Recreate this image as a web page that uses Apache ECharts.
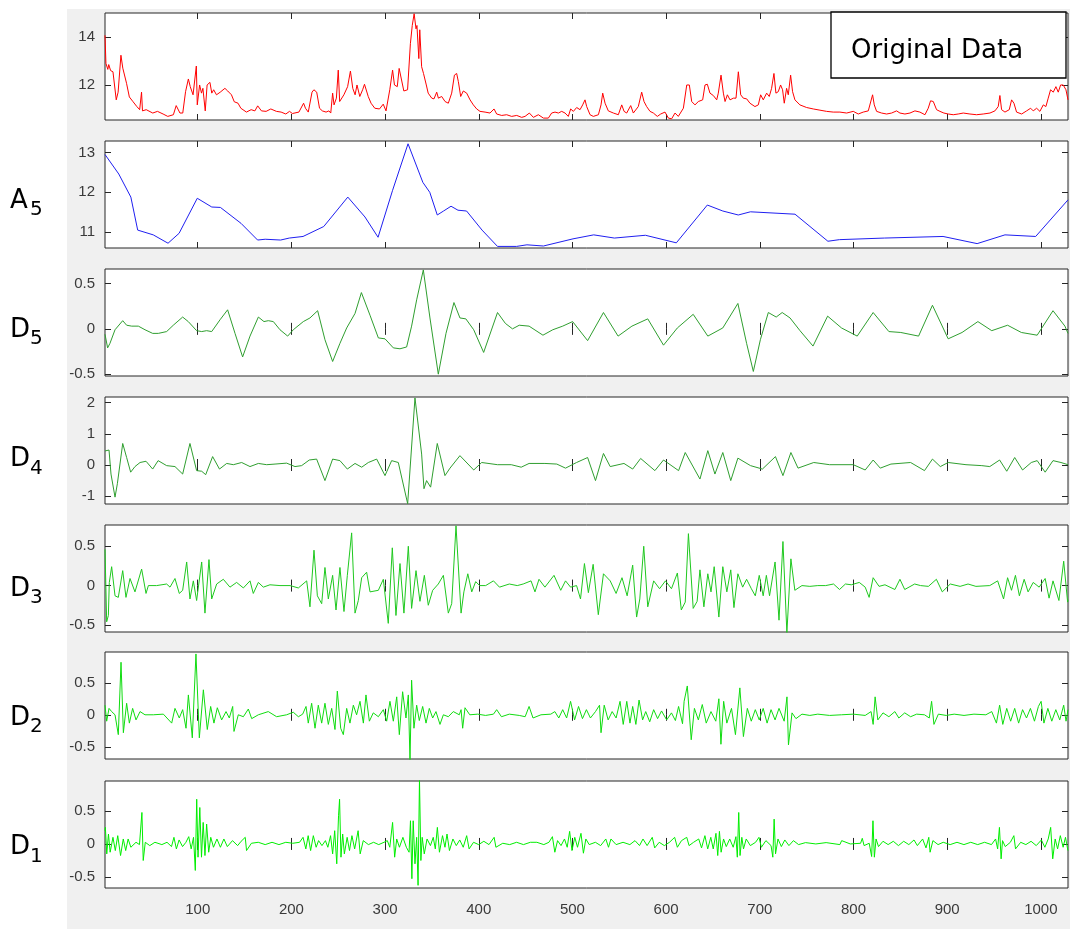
<!DOCTYPE html>
<html><head><meta charset="utf-8">
<script src="https://cdn.jsdelivr.net/npm/echarts@6/dist/echarts.min.js"></script>
<style>
html,body{margin:0;padding:0;background:#fff;}
#bg{position:absolute;left:67px;top:9px;width:1003px;height:920px;background:#f0f0f0;}
#chart{position:absolute;left:0;top:0;width:1070px;height:933px;}
</style></head><body>
<div id="bg"></div><div id="chart"></div>
<script>
// ---------- data ----------
const xTicks = [100,200,300,400,500,600,700,800,900,1000];
const panelLabels = [null, ['A','5'], ['D','5'], ['D','4'], ['D','3'], ['D','2'], ['D','1']];
const yTicksOrig = [12,14];
const yTicksA5 = [11,12,13];
const yTicksD5 = [-0.5,0,0.5];
const yTicksD4 = [-1,0,1,2];
const yTicksD3 = [-0.5,0,0.5];
const yTicksD2 = [-0.5,0,0.5];
const yTicksD1 = [-0.5,0,0.5];

const orig = [[1,14.07],[2,12.9],[4,12.65],[5,12.85],[7,12.6],[9.5,12.55],[13,11.38],[15,11.7],[18,13.24],[20,12.7],[24,12.07],[27,11.5],[31,11.3],[35,11.1],[38,10.97],[40,11.7],[41,10.92],[45,10.97],[52,10.83],[57,10.9],[63,10.79],[68,10.69],[74,10.76],[77,11.14],[81,10.83],[84,10.83],[87,11.72],[90,12.25],[92,11.93],[95,11.59],[98.5,12.79],[99.5,11.17],[102,12.0],[104,11.66],[105.5,11.86],[108,10.92],[110,12.0],[113,12.11],[115,11.66],[117,11.8],[120,11.59],[124,11.7],[129,11.86],[132,11.75],[136,11.59],[139,11.3],[143,11.24],[146,11.03],[152,10.87],[157,10.97],[161,10.92],[164,11.13],[168,10.92],[173,10.9],[178,11.0],[184,10.9],[189,10.87],[194,10.79],[198,10.9],[201,10.81],[208,10.87],[213,11.24],[215,11.03],[218,10.87],[222,11.7],[224,11.8],[227,11.7],[230,11.03],[233,10.92],[237,10.87],[240,10.92],[242,10.83],[244,11.66],[245.5,11.17],[248,11.45],[250,12.62],[251.5,11.31],[256,11.59],[260,11.93],[263,12.58],[265.5,11.86],[268,11.59],[270,12.0],[273,11.52],[276,11.8],[278,12.03],[282,11.52],[285,11.24],[289,11.03],[294,11.0],[298,11.2],[301,10.92],[305,11.8],[308,12.62],[310,12.0],[313,11.93],[315,12.69],[317,12.76],[320,11.75],[322,11.7],[324,11.8],[327,13.72],[329,14.48],[331,14.97],[333,14.34],[334,14.48],[336,13.1],[337,14.3],[339,12.76],[341,12.48],[344,12.0],[346,11.66],[349.8,11.45],[352.2,11.42],[355.1,11.7],[356.9,11.45],[360.4,11.52],[364,11.31],[367.5,11.24],[371.1,11.66],[374,12.41],[376.4,12.48],[378.2,12.14],[380.7,11.52],[383.5,11.75],[387.1,11.66],[390.7,11.38],[394.2,11.17],[397.8,11.0],[401.3,10.9],[406.7,10.87],[412,10.83],[416.3,11.0],[419.1,10.79],[424.5,10.73],[429.8,10.76],[435.1,10.69],[440.5,10.73],[445.8,10.65],[449.4,10.69],[454,10.83],[458.3,10.65],[463.6,10.76],[469,10.62],[474.3,10.62],[477.8,10.83],[481.4,10.87],[485,10.83],[488.5,10.9],[492.1,10.83],[495.6,10.69],[498.1,11.0],[501,10.9],[504.5,11.06],[508.1,10.97],[510.9,11.17],[513.4,11.38],[515.2,11.1],[518.8,10.76],[522.3,10.69],[527.7,10.76],[530.5,11.17],[532.3,11.66],[534.8,11.24],[538.3,10.92],[543.7,10.83],[549,10.76],[552.6,11.17],[555.1,10.9],[557.9,10.83],[562.2,11.14],[565,10.83],[570.3,11.1],[573.9,11.7],[576.4,11.31],[579.2,11.1],[582.8,10.9],[586.4,10.83],[590.6,10.69],[594.2,10.79],[598.8,10.87],[602.4,10.62],[605.9,10.59],[609.5,10.83],[613,10.69],[618.4,11.03],[622,12.0],[624.8,12.0],[627.3,11.31],[630.8,11.17],[634.4,11.31],[639,11.38],[641.5,12.0],[644,12.03],[646.8,11.66],[650.4,11.56],[654,11.38],[655.7,11.66],[658.6,12.41],[661.1,11.66],[662.9,11.31],[665.4,11.59],[668.2,11.38],[671.8,11.45],[674.6,11.45],[677.1,12.55],[679.6,11.59],[682.4,11.45],[686,11.42],[689.5,11.24],[691.3,11.17],[694.8,11.1],[698.4,11.17],[700.9,11.59],[703.7,11.38],[707.3,11.66],[710.1,11.52],[712.6,11.86],[715.1,12.48],[717.2,11.66],[719.7,11.72],[722.2,12.0],[724.3,11.8],[726.1,11.24],[728.6,11.86],[730.4,11.59],[732.9,12.41],[735,11.72],[737.5,11.38],[742.8,11.17],[750,11.06],[757.1,11.0],[764.2,10.95],[771.3,10.9],[778.4,10.87],[785.5,10.87],[792.7,10.83],[799.8,10.9],[805.1,10.79],[810.4,10.87],[815.8,10.92],[820.4,11.59],[822.2,11.17],[824.7,10.9],[830,10.83],[835.4,10.79],[840.7,10.83],[846,10.92],[849.6,10.83],[854.9,10.79],[860.3,10.83],[865.6,10.92],[870.9,10.87],[876.3,10.76],[879.8,11.03],[882.3,11.34],[885.2,11.31],[888.7,10.97],[892.3,10.9],[896.5,10.83],[901.2,10.79],[906.5,10.76],[911.8,10.79],[917.2,10.83],[924.3,10.79],[931.4,10.76],[938.5,10.79],[945.7,10.83],[951,10.92],[954.5,11.1],[956.3,11.56],[958.1,10.97],[961.7,10.87],[966.3,10.97],[968.8,11.38],[971.3,11.24],[974.1,10.87],[979.5,10.79],[984.8,10.92],[989.1,11.03],[991.9,10.92],[995.5,11.03],[999,10.9],[1002.6,11.17],[1005.4,11.1],[1007.9,11.45],[1010.4,11.8],[1013.3,11.7],[1016.1,11.93],[1018.6,11.7],[1021.1,12.0],[1023.9,12.0],[1026.8,11.8],[1029,11.38]];

const a5 = [[1,12.95],[15.7,12.46],[28.6,11.88],[35.9,11.05],[52.5,10.93],[68.3,10.72],[80.1,10.97],[99.5,11.85],[115,11.63],[124.2,11.62],[146.2,11.22],[163.9,10.8],[172,10.82],[188.5,10.8],[197.7,10.85],[212.4,10.89],[234.5,11.14],[260.2,11.88],[278.5,11.38],[292.5,10.87],[308,12.05],[324.5,13.22],[340.3,12.25],[347.7,12.0],[355.7,11.43],[362.4,11.53],[370.4,11.65],[377.8,11.55],[387,11.53],[403.5,11.05],[420,10.64],[440.3,10.64],[451.4,10.68],[469,10.65],[500.6,10.83],[522.7,10.93],[544.8,10.85],[577.9,10.92],[610.9,10.73],[644,11.68],[660.5,11.53],[677,11.43],[690,11.51],[737.6,11.45],[772.7,10.77],[785,10.81],[833,10.85],[895.6,10.89],[932,10.71],[961.7,10.93],[994.5,10.89],[1029,11.81]];

const d5 = [[1,-0.06],[1.7,-0.08],[3.8,-0.21],[6.3,-0.16],[11.7,-0.01],[19.9,0.09],[24.1,0.04],[29.5,0.03],[36.6,0.03],[43.7,-0.01],[51.9,-0.05],[57.9,-0.05],[66.8,-0.03],[73.9,0.04],[83.9,0.13],[89.9,0.08],[98.8,-0.02],[104.2,-0.03],[109.5,-0.02],[114.9,-0.03],[123.8,0.1],[131.9,0.21],[139.8,-0.05],[147.9,-0.31],[155.8,-0.08],[164.7,0.13],[170.7,0.08],[175.3,0.09],[180.7,0.08],[187.8,-0.01],[196,-0.08],[202,-0.01],[212.7,0.08],[219.8,0.12],[228,0.2],[235.8,-0.12],[244,-0.36],[251.8,-0.16],[259,0.01],[267.9,0.17],[274.7,0.4],[283.9,0.15],[292.8,-0.1],[299.9,-0.11],[308.8,-0.21],[315.9,-0.22],[323,-0.2],[328.3,0.03],[333.7,0.32],[340.8,0.65],[347.9,0.12],[356.8,-0.5],[365,-0.05],[373.5,0.29],[379.9,0.12],[386.2,0.11],[394.6,-0.01],[405.2,-0.26],[420,0.18],[428.4,0.06],[436,0.0],[443.2,0.04],[453.7,0.03],[468.5,-0.07],[479,-0.01],[489.6,0.03],[500.2,0.08],[516.2,-0.13],[533.1,0.18],[548.7,-0.08],[563.5,0.03],[580.4,0.11],[597.2,-0.18],[612,0.01],[628.9,0.16],[644.5,-0.08],[660.5,0.01],[676.6,0.28],[685.9,-0.16],[693.1,-0.47],[700.6,-0.12],[709.1,0.18],[717.5,0.13],[723.9,0.18],[732.3,0.12],[742.9,-0.02],[756.8,-0.19],[772.4,0.14],[787.2,0.01],[804,-0.08],[821,0.18],[837.8,-0.03],[850.5,-0.04],[869.5,-0.08],[884.3,0.26],[901.1,-0.11],[915.9,-0.04],[932.8,0.08],[947.6,-0.02],[964.5,0.04],[979.2,-0.04],[996.1,-0.07],[1013,0.2],[1025.7,0.03],[1029,-0.05]];

const d4 = [[1,0.45],[1.7,0.46],[5.3,0.48],[7.4,-0.29],[11.7,-1.03],[14.2,-0.6],[19.9,0.69],[24.1,0.24],[28.4,-0.23],[33,-0.05],[38.4,0.08],[44.8,0.12],[51.9,-0.13],[57.7,0.14],[66.8,-0.02],[75.7,-0.05],[83.9,-0.29],[91.7,0.69],[98.8,-0.18],[104.2,-0.2],[108.5,-0.31],[115.9,0.27],[123.2,-0.13],[130.9,0.05],[138,0.01],[146.9,0.08],[155.8,-0.05],[164.7,0.05],[173.6,0.01],[182.5,0.03],[194.9,0.06],[203.8,-0.05],[210.9,-0.02],[219.1,0.16],[226.9,0.19],[235.8,-0.5],[244,0.19],[251.8,0.14],[259.7,-0.13],[267.9,0.05],[275,-0.07],[282.1,0.08],[291,0.19],[299.9,-0.34],[307,0.14],[314.1,0.08],[324.1,-1.24],[331.9,2.15],[339,0.35],[341.5,-0.76],[344.3,-0.5],[348.6,-0.71],[355.7,0.69],[363.9,-0.34],[369.3,-0.1],[379.9,0.3],[394.6,-0.16],[403.1,0.08],[420,0.01],[434.7,0.01],[445.3,-0.07],[453.7,0.05],[470.6,0.05],[483.3,0.03],[492.6,-0.1],[504.4,0.08],[516.2,0.24],[524.6,-0.5],[533.1,0.37],[540.3,-0.05],[555,0.05],[564.3,-0.13],[572.8,0.21],[588,-0.18],[597.2,0.16],[613.3,-0.18],[620.4,0.4],[636.1,-0.45],[644.5,0.46],[652.1,-0.29],[660.5,0.4],[669,-0.5],[676.6,0.22],[690.1,-0.02],[702.8,-0.13],[716.7,0.27],[724.7,-0.34],[733.2,0.4],[740.8,-0.1],[757.6,0.08],[774.5,0.01],[799.8,0.01],[812.5,-0.16],[821,0.16],[828.6,-0.1],[840,0.03],[861,0.08],[875.8,-0.18],[884.3,0.19],[892.7,-0.05],[901.1,0.08],[920.1,0.01],[937,-0.02],[945.5,-0.05],[956,0.16],[963.6,-0.2],[972.1,0.24],[980.5,-0.16],[989.8,0.08],[996.1,0.14],[1004.6,-0.23],[1013,0.14],[1021.5,0.08],[1029,0.01]];

const d3 = [[1,0.46],[2.8,-0.46],[4.6,-0.38],[5.6,0.04],[8.1,0.24],[11.7,-0.13],[15.2,-0.15],[19.9,0.19],[23.4,-0.15],[27.7,0.09],[33,-0.08],[40.1,0.21],[44.8,-0.1],[47.3,0.0],[56.1,0.0],[66.8,0.02],[70.4,-0.02],[75.7,0.09],[80.3,-0.1],[83.9,-0.06],[88.2,0.3],[91.7,-0.17],[95.3,0.06],[98.8,-0.19],[104.2,0.3],[107.7,-0.35],[112,0.33],[114.9,-0.17],[120.2,0.02],[127.3,0.08],[134.4,-0.02],[141.5,0.04],[148.7,-0.03],[155.8,0.06],[159.3,-0.1],[164.7,0.04],[170,-0.02],[177.1,0.01],[187.8,0.0],[198.5,0.0],[207.4,-0.03],[216.3,0.06],[219.8,-0.27],[224.1,0.45],[227.7,-0.13],[232.3,-0.23],[235.8,0.23],[239.4,-0.17],[244,0.13],[247.6,-0.31],[251.8,0.23],[256.1,-0.33],[259.7,0.13],[264.3,0.67],[267.9,-0.35],[271.4,-0.19],[275,0.1],[280.3,0.17],[283.9,-0.08],[292.8,-0.06],[298.1,0.08],[303.4,-0.48],[307.7,0.48],[311.6,-0.38],[315.9,0.28],[320.1,-0.35],[324.8,0.5],[328.3,-0.29],[333,0.19],[337.2,-0.2],[341.9,0.13],[346.1,-0.25],[350.8,-0.06],[356.8,0.02],[362.2,0.13],[367.5,-0.35],[371.1,-0.23],[375.7,0.76],[381.1,-0.35],[384.1,-0.08],[388.3,0.15],[392.5,-0.08],[396.7,0.05],[401,0.0],[407.3,0.0],[415.7,0.06],[422.1,-0.02],[432.6,0.02],[441.1,0.0],[447.4,0.02],[455.8,0.06],[460,-0.08],[464.3,0.08],[470.6,-0.02],[480.3,0.13],[487.5,-0.06],[492.6,0.06],[498,-0.02],[504.4,0.0],[508.6,-0.17],[512.8,0.28],[517,-0.09],[522.1,0.27],[527.6,-0.37],[533.1,0.15],[540.3,0.06],[546.6,-0.1],[552.9,0.1],[558.4,-0.13],[564.3,0.26],[568.5,-0.4],[571.9,-0.17],[576.1,0.5],[580.4,-0.27],[586.7,0.06],[593,-0.04],[599.3,0.06],[605.7,-0.04],[612,0.16],[616.2,-0.31],[620.4,-0.21],[623.8,0.66],[628.9,-0.29],[633.1,-0.2],[636.1,0.2],[640.3,-0.27],[644.5,0.15],[647.9,-0.08],[651.3,0.24],[656.3,-0.4],[660.5,0.24],[664.8,-0.08],[669,0.2],[672.4,-0.28],[676.6,0.15],[681.7,-0.02],[685.9,0.08],[691,-0.04],[695.2,-0.13],[699.4,0.13],[703.6,-0.13],[707,0.13],[710.4,-0.13],[716.3,0.3],[720.5,-0.44],[724.7,0.56],[728.9,-0.6],[733.2,0.34],[737.4,-0.06],[745,0.0],[753.4,-0.01],[761.9,0.0],[770.3,0.0],[778.7,0.02],[785.1,-0.05],[791.4,0.02],[797.7,0.01],[806.2,0.04],[812.5,-0.02],[816.7,-0.15],[821,0.1],[827.3,-0.01],[833.6,0.01],[844.2,-0.05],[849.6,0.08],[854.7,-0.05],[865.3,0.02],[871.6,0.0],[880,-0.01],[888.5,0.08],[894.8,-0.08],[903.3,0.02],[913.8,-0.01],[922.3,0.02],[930.7,-0.01],[945.5,0.0],[953.9,0.06],[960.2,-0.17],[964.5,0.1],[968.7,-0.06],[972.9,0.13],[977.1,-0.13],[982.2,0.08],[986.4,-0.08],[991.9,0.04],[998.2,-0.02],[1004.6,0.09],[1008.8,-0.16],[1013,0.06],[1019.3,-0.19],[1024.4,0.31],[1028.6,-0.21],[1029,-0.18]];

const d2 = [[1,0.15],[2.8,-0.1],[5.3,0.1],[8.1,0.05],[11.7,0.0],[15.2,-0.31],[18.1,0.82],[20.6,-0.28],[24.1,0.18],[27,-0.13],[30.5,0.1],[34.1,-0.08],[38.4,0.05],[43.7,0.0],[52.6,0.0],[63.3,0.01],[72.2,-0.13],[75.7,0.1],[80.3,-0.05],[83.9,0.08],[87.5,-0.21],[90,0.31],[94.2,-0.36],[98.1,0.95],[101.7,-0.36],[106,0.39],[110.2,-0.23],[113.8,0.13],[117.3,-0.13],[120.9,0.11],[125.5,-0.08],[130.2,0.05],[133.7,-0.05],[137.3,0.13],[138.7,-0.26],[143.3,0.0],[148.7,-0.03],[154,0.09],[157.6,-0.06],[164.7,0.0],[175.3,0.05],[184.2,-0.03],[194.9,0.0],[202,0.04],[207.4,-0.03],[212,0.01],[215.6,0.13],[218,-0.13],[221.6,0.18],[225.2,-0.21],[228.7,0.15],[232.3,-0.13],[235.8,0.18],[239.4,-0.15],[243,0.1],[246.5,-0.23],[249,0.37],[252.6,-0.21],[255.4,-0.31],[259,0.1],[262.5,-0.13],[266.1,0.15],[269.6,0.0],[273.2,0.21],[276.8,-0.13],[279.6,0.31],[283.2,-0.1],[287.4,0.03],[292.8,-0.03],[298.1,0.08],[301.7,-0.1],[305.2,0.21],[308.8,-0.1],[312.4,0.28],[315.2,-0.31],[318.7,0.36],[322.3,-0.05],[324.8,0.31],[326.6,-0.72],[328.3,0.54],[330.8,-0.21],[333.7,0.15],[336.5,-0.09],[340.1,0.13],[343.7,-0.13],[347.2,0.1],[350.8,-0.05],[354.3,0.05],[358.6,-0.15],[362.2,0.0],[367.5,-0.03],[372.8,0.05],[379.2,0.0],[381.1,0.08],[382.8,-0.21],[385.3,0.11],[390.4,0.0],[398.8,0.01],[407.3,-0.01],[415.7,0.01],[419.1,0.08],[424.2,-0.03],[432.6,0.01],[443.2,-0.01],[449.5,-0.03],[453.7,0.13],[457.9,-0.05],[466.4,0.0],[476.9,0.01],[481.2,0.05],[485.4,-0.05],[489.6,0.08],[493.8,-0.05],[498,0.21],[502.3,-0.08],[506.5,0.13],[510.7,-0.06],[514.9,0.08],[519.2,-0.05],[524.6,0.05],[528.9,0.15],[530.5,-0.28],[533.9,0.15],[538.1,-0.08],[542.4,0.05],[546.6,-0.05],[550.8,0.21],[554.2,-0.15],[558,0.21],[561.4,-0.13],[564.3,0.13],[567.7,-0.15],[571.1,0.23],[574.9,-0.08],[578.2,0.05],[582.5,-0.11],[586.7,0.08],[590.9,-0.06],[595.1,0.06],[600.6,-0.08],[605.7,0.03],[609.9,-0.09],[613.3,0.13],[617.5,-0.14],[619.2,0.21],[622.6,0.45],[626.8,-0.39],[630.2,0.1],[634.4,-0.08],[638.6,0.16],[642.8,-0.13],[647.9,0.05],[653,-0.1],[656.3,0.25],[658.5,-0.46],[661.4,0.21],[664.8,-0.13],[669.8,0.1],[674,-0.31],[678.7,0.42],[682.5,-0.34],[686.7,0.1],[690.9,-0.1],[695.2,0.08],[699.4,-0.08],[703.6,0.1],[707.8,-0.13],[712,0.08],[716.3,-0.08],[720.5,0.1],[726,-0.1],[729,0.28],[730.6,-0.47],[734.4,0.03],[738.6,-0.06],[745,0.01],[753.4,-0.01],[761.9,0.01],[774.5,-0.01],[787.2,0.0],[799.8,0.01],[812.5,-0.01],[818.8,0.05],[821,-0.15],[823.1,0.28],[826,-0.08],[831.5,0.03],[837.8,-0.03],[844.2,0.05],[848.4,-0.05],[854.7,0.03],[861,-0.03],[867.4,0.01],[875.8,0.0],[880.9,-0.05],[883.4,0.21],[885.9,-0.15],[890.6,0.01],[899,-0.01],[907.5,0.01],[918,-0.01],[928.6,0.01],[941.3,0.0],[947.6,0.05],[952.6,-0.13],[956,0.15],[959.4,-0.15],[963.6,0.1],[967.8,-0.1],[972.1,0.1],[976.3,-0.13],[980.5,0.08],[984.7,-0.05],[988.9,0.1],[993.2,-0.1],[997.4,0.13],[1000.3,0.21],[1003.3,-0.13],[1007.5,0.1],[1011.7,-0.1],[1016,0.08],[1020.2,-0.08],[1024.4,0.15],[1026.9,-0.1],[1029,0.08]];

const d1 = [[1,0.2],[1.4,0.25],[2.9,-0.15],[4.7,0.15],[6.5,-0.125],[9.5,0.1],[12,-0.1],[14.6,0.125],[17.6,-0.175],[20.5,0.075],[23.1,-0.1],[25.7,0.075],[28.6,-0.05],[34.1,0.025],[37.8,-0.01],[40.4,0.475],[41.8,-0.25],[44,0.025],[48.8,-0.025],[54.3,0.025],[61.7,-0.01],[67.2,0.025],[72,-0.04],[74.6,0.1],[77.2,-0.075],[80.1,0.06],[83.8,-0.04],[87.4,0.025],[90.4,0.11],[93,-0.075],[95.5,0.1],[97.4,-0.4],[98.9,0.675],[100.3,-0.2],[102.2,0.55],[104,-0.2],[105.8,0.325],[107.7,-0.175],[109.5,0.3],[111.7,-0.125],[113.9,0.1],[116.8,-0.05],[120.5,0.075],[124.2,-0.05],[127.9,0.075],[131.6,-0.04],[137.1,0.05],[142.6,-0.025],[146.3,0.04],[150.7,0.1],[152.1,-0.1],[157.3,0.01],[164.6,0.025],[172,-0.01],[179.3,0.025],[186.7,-0.01],[194,0.025],[201.4,0.01],[208.7,0.025],[212.4,0.1],[215.4,-0.075],[217.9,0.125],[220.5,-0.1],[223.4,0.125],[226.4,-0.05],[229,0.05],[232.6,-0.025],[236.3,0.05],[238.9,-0.05],[241.8,0.125],[244,-0.15],[246.2,0.2],[248.4,-0.3],[250.3,0.425],[251.4,0.675],[252.9,-0.2],[254.7,0.15],[256.5,-0.15],[259.5,0.1],[262,-0.1],[264.6,0.125],[267.5,-0.075],[271.2,0.2],[273.4,-0.15],[276.7,0.05],[282.2,-0.01],[287.7,0.025],[293.2,-0.01],[298.8,0.025],[302.4,0.05],[305,-0.05],[308,0.325],[310.2,-0.2],[312.4,0.075],[315.3,-0.05],[319,0.1],[322.7,-0.05],[325.6,-0.125],[327.1,0.35],[328.6,-0.525],[330,0.35],[331.9,-0.3],[333.7,0.1],[335.2,-0.625],[336.7,0.975],[338.2,-0.25],[339.6,0.1],[341.8,-0.15],[344.8,0.075],[348.4,-0.025],[351.4,0.1],[353.6,-0.075],[355.8,0.25],[358,-0.125],[361.3,0.125],[363.9,-0.05],[366.1,0.15],[368.7,-0.1],[372.4,0.075],[376,-0.025],[379.7,0.06],[383.4,-0.05],[387.1,0.125],[389.7,-0.075],[394.4,0.025],[399.9,-0.01],[405.4,0.04],[410.9,-0.01],[416.4,0.1],[418.3,-0.05],[425.6,0.01],[433,-0.01],[440.4,0.025],[447.7,-0.01],[455.1,0.025],[462,0.025],[469.4,-0.01],[474.9,0.025],[478.6,0.11],[481.2,-0.125],[484.1,0.05],[487.8,-0.025],[491.5,0.075],[494.4,-0.05],[497,0.19],[499.5,-0.1],[502.5,0.1],[505.4,-0.05],[509.1,0.16],[511.7,-0.14],[514.3,0.075],[517.9,-0.01],[524.5,0.025],[530.1,-0.025],[535.6,0.075],[538.5,-0.05],[541.1,0.075],[546.6,-0.01],[554,0.025],[561.3,-0.01],[566.8,0.05],[571.6,-0.025],[575.3,0.075],[579.7,-0.025],[585.2,0.1],[587.8,-0.06],[592.6,0.025],[598.1,-0.025],[603.6,0.025],[609.1,0.1],[612,-0.05],[616.4,0.05],[622,0.1],[624.5,-0.025],[629.3,0.025],[634.8,0.075],[637.8,-0.06],[641.4,0.125],[644.4,-0.075],[647.7,0.1],[650.3,-0.075],[653.2,0.16],[655.1,-0.175],[656.9,0.19],[658.7,-0.125],[661.3,0.075],[664.2,-0.04],[667.9,0.075],[671.6,-0.05],[674.5,0.11],[676,-0.2],[677.5,0.475],[678.9,-0.175],[680.8,0.1],[682.6,-0.075],[685.5,0.075],[689.9,-0.025],[695.5,0.025],[699.1,0.1],[701.7,-0.05],[706.5,0.05],[712,-0.025],[713.9,-0.2],[715.3,0.375],[716.8,-0.15],[719.4,0.075],[723,-0.04],[726.7,0.06],[731.1,-0.025],[735.9,0.05],[741.4,-0.01],[748.8,0.02],[759.8,0.0],[770.8,0.02],[785.5,-0.01],[787.4,0.05],[796.6,0.0],[807.6,0.01],[809.4,0.085],[811.3,-0.025],[816.8,0.01],[819.4,-0.19],[820.8,0.35],[822.3,-0.2],[824.1,0.075],[826.7,-0.04],[831.5,0.04],[837,-0.01],[842.5,0.04],[848,-0.025],[853.6,0.04],[859.1,-0.01],[864.6,0.06],[868.2,-0.025],[873.8,0.075],[877.4,-0.06],[880.4,0.1],[881.8,-0.125],[884.8,0.05],[890.3,-0.01],[895.8,0.025],[903.2,-0.01],[910.5,0.025],[917.9,-0.01],[925.2,0.025],[932.6,-0.01],[939.9,0.025],[947.3,-0.01],[951.7,0.075],[953.9,-0.075],[955.8,0.25],[957.6,-0.225],[959.1,0.05],[962,-0.04],[967.5,0.025],[971.2,0.125],[973,-0.075],[978.5,0.025],[984,-0.01],[989.6,0.04],[995.1,-0.025],[1000.6,0.06],[1004.3,-0.05],[1007.9,0.075],[1010.5,0.25],[1012.7,-0.225],[1015.3,0.075],[1017.9,-0.075],[1020.8,0.125],[1023.8,-0.05],[1026.3,0.1],[1028.9,-0.1]];

// ---------- layout / style ----------
const panels = [
  {data: orig, color: '#ff0000', min: 10.54, max: 15.0, ticks: yTicksOrig},
  {data: a5, color: '#1f1ff0', min: 10.6, max: 13.29, ticks: yTicksA5},
  {data: d5, color: '#2f9e2f', min: -0.52, max: 0.66, ticks: yTicksD5},
  {data: d4, color: '#2f9e2f', min: -1.25, max: 2.18, ticks: yTicksD4},
  {data: d3, color: '#1fc81f', min: -0.59, max: 0.77, ticks: yTicksD3},
  {data: d2, color: '#10dc10', min: -0.69, max: 0.98, ticks: yTicksD2},
  {data: d1, color: '#00ee00', min: -0.665, max: 0.95, ticks: yTicksD1}
];
const tops = [13, 141, 269, 397, 525, 652, 781];
const labelCenters = [null, 201, 330, 459.5, 589, 718, 847.5];
const H = 107;
const axisCol = '#262626';
const labelStyle = {fontSize: 15, color: '#3a3a3a', fontFamily: '"Liberation Sans", Arial, sans-serif'};
const fmt = v => String(v);

const grid = [], xAxis = [], yAxis = [], series = [];
panels.forEach((p, i) => {
  grid.push({left: 105, right: 2, top: tops[i], height: H, show: true,
    backgroundColor: '#ffffff', borderColor: axisCol, borderWidth: 1});
  ['bottom', 'top'].forEach(pos => {
    xAxis.push({gridIndex: i, type: 'value', min: 1, max: 1029, position: pos,
      axisLine: {show: false},
      axisTick: {show: true, inside: true, length: 6, customValues: xTicks, lineStyle: {color: axisCol, width: 1}},
      axisLabel: Object.assign({show: (i === 6 && pos === 'bottom'), customValues: xTicks, margin: 14, formatter: fmt}, labelStyle),
      splitLine: {show: false}});
  });
  ['left', 'right'].forEach(pos => {
    yAxis.push({gridIndex: i, type: 'value', min: p.min, max: p.max, position: pos,
      axisLine: {show: false},
      axisTick: {show: true, inside: true, length: 6, customValues: p.ticks, lineStyle: {color: axisCol, width: 1}},
      axisLabel: Object.assign({show: pos === 'left', customValues: p.ticks, margin: 10, formatter: fmt}, labelStyle),
      splitLine: {show: false}});
  });
  series.push({type: 'line', xAxisIndex: 2 * i, yAxisIndex: 2 * i, data: p.data,
    showSymbol: false, symbol: 'none', animation: false, clip: true,
    lineStyle: {color: p.color, width: 1}});
});

const graphic = [
  {type: 'rect', shape: {x: 831, y: 12, width: 235, height: 66}, z: 100,
   style: {fill: '#ffffff', stroke: '#000000', lineWidth: 1.3}},
  {type: 'text', x: 851, y: 51, z: 101,
   style: {text: 'Original Data', font: '26px "DejaVu Sans"', fill: '#000', align: 'left', verticalAlign: 'middle', textAlign: 'left', textVerticalAlign: 'middle'}}
];
panelLabels.forEach((lb, i) => {
  if (!lb) return;
  const cy = labelCenters[i];
  graphic.push({type: 'text', x: 10, y: cy, z: 101,
    style: {text: lb[0], font: '26px "DejaVu Sans"', fill: '#000', align: 'left', verticalAlign: 'middle', textAlign: 'left', textVerticalAlign: 'middle'}});
  graphic.push({type: 'text', x: 30, y: cy + 9, z: 101,
    style: {text: lb[1], font: '20px "DejaVu Sans"', fill: '#000', align: 'left', verticalAlign: 'middle', textAlign: 'left', textVerticalAlign: 'middle'}});
});

const chart = echarts.init(document.getElementById('chart'), null, {renderer: 'canvas'});
chart.setOption({
  backgroundColor: 'transparent',
  animation: false,
  grid, xAxis, yAxis, series, graphic
});
</script>
</body></html>
